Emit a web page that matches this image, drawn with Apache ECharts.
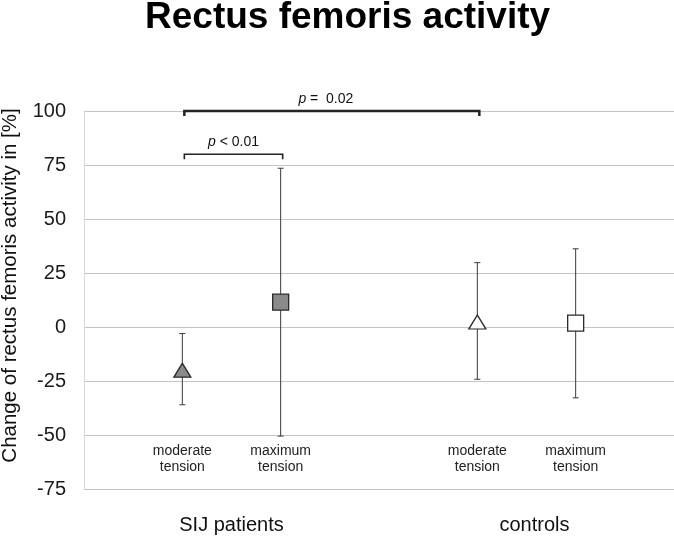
<!DOCTYPE html>
<html>
<head>
<meta charset="utf-8">
<script src="https://cdn.jsdelivr.net/npm/echarts@6/dist/echarts.min.js"></script>
<style>
html, body { margin: 0; padding: 0; background: #fff; }
#chart { width: 674px; height: 536px; }
</style>
</head>
<body>
<div id="chart"></div>
<script>
// x positions of the four conditions (hidden value axis 0..6)
var positions = [1, 2, 4, 5];
var conditions = ['moderate\ntension', 'maximum\ntension', 'moderate\ntension', 'maximum\ntension'];
var groupPositions = [1.5, 4.5];
var groups = ['SIJ patients', 'controls'];

// change in %, mean with upper/lower whisker ends
var means = [-20, 11.5, 2.3, 1.8];
var upper = [-3, 73.5, 29.8, 36.2];
var lower = [-36, -50.5, -24.2, -32.8];

// significance brackets: from, to, height, text after the italic p
var bracketFrom = [1, 1];
var bracketTo = [2, 4];
var bracketY = [80, 100];
var bracketText = [' < 0.01', ' =  0.02'];

var yMin = -75, yMax = 100, yStep = 25;

var FONT = "'Liberation Sans', Arial, sans-serif";

var pointData = positions.map(function (x, i) { return [x, means[i]]; });
var errData = positions.map(function (x, i) { return [x, lower[i], upper[i]]; });
var bracketData = bracketFrom.map(function (x, i) { return [x, bracketTo[i], bracketY[i], i]; });

function lookup(list, labels, v) {
    for (var i = 0; i < list.length; i++) {
        if (Math.abs(list[i] - v) < 1e-6) return labels[i];
    }
    return '';
}

var myChart = echarts.init(document.getElementById('chart'));
var option = {
    backgroundColor: '#fff',
    animation: false,
    title: {
        text: 'Rectus femoris activity',
        left: 145,
        top: -1,
        padding: 0,
        textStyle: {
            fontFamily: FONT,
            fontWeight: 'bold',
            fontSize: 37,
            color: '#000'
        }
    },
    grid: { left: 84, right: 0, top: 111, bottom: 47, outerBoundsMode: 'none', containLabel: false },
    xAxis: [
        {
            type: 'value', min: 0, max: 6, interval: 0.5,
            axisLine: { show: false }, axisTick: { show: false }, splitLine: { show: false },
            axisLabel: {
                inside: true, margin: 14,
                fontFamily: FONT, fontSize: 14, lineHeight: 16, color: '#222',
                formatter: function (v) { return lookup(positions, conditions, v); }
            }
        },
        {
            type: 'value', min: 0, max: 6, interval: 0.5, position: 'bottom',
            axisLine: { show: false }, axisTick: { show: false }, splitLine: { show: false },
            axisLabel: {
                margin: 25,
                fontFamily: FONT, fontSize: 20, lineHeight: 22, color: '#111',
                formatter: function (v) {
                    var t = lookup(groupPositions, groups, v);
                    return t && v > 3 ? '{r|' + t + '}' : t;
                },
                rich: { r: { fontFamily: FONT, fontSize: 20, lineHeight: 22, color: '#111', padding: [0, 0, 0, 16] } }
            }
        }
    ],
    yAxis: {
        type: 'value', min: yMin, max: yMax, interval: yStep,
        name: 'Change of rectus femoris activity in [%]',
        nameLocation: 'middle',
        nameGap: 63,
        nameTextStyle: { fontFamily: FONT, fontSize: 20.5, color: '#111', padding: [0, 0, 0, 29] },
        axisLine: { show: true, lineStyle: { color: '#d9d9d9', width: 1 } },
        axisTick: { show: false },
        axisLabel: { margin: 18, fontFamily: FONT, fontSize: 20, color: '#1a1a1a' },
        splitLine: { lineStyle: { color: '#c4c4c4', width: 1.2 } }
    },
    series: [
        {
            type: 'custom',
            name: 'error bars',
            z: 2,
            data: errData,
            renderItem: function (params, api) {
                var lo = api.coord([api.value(0), api.value(1)]);
                var hi = api.coord([api.value(0), api.value(2)]);
                var cap = 3;
                var st = { stroke: '#3a3a3a', lineWidth: 1 };
                return {
                    type: 'group',
                    children: [
                        { type: 'line', shape: { x1: lo[0], y1: lo[1], x2: hi[0], y2: hi[1] }, style: st },
                        { type: 'line', shape: { x1: hi[0] - cap, y1: hi[1], x2: hi[0] + cap, y2: hi[1] }, style: st },
                        { type: 'line', shape: { x1: lo[0] - cap, y1: lo[1], x2: lo[0] + cap, y2: lo[1] }, style: st }
                    ]
                };
            }
        },
        {
            type: 'scatter',
            name: 'means',
            z: 3,
            data: pointData,
            symbol: function (val, params) { return params.dataIndex % 2 === 0 ? 'triangle' : 'rect'; },
            symbolSize: function (val, params) { return params.dataIndex % 2 === 0 ? [17, 14] : 16; },
            itemStyle: {
                color: function (p) { return p.dataIndex < 2 ? '#8a8a8a' : '#ffffff'; },
                borderColor: '#2a2a2a',
                borderWidth: 1.3,
                opacity: 1
            }
        },
        {
            type: 'custom',
            name: 'brackets',
            z: 4,
            data: bracketData,
            renderItem: function (params, api) {
                var a = api.coord([api.value(0), api.value(2)]);
                var b = api.coord([api.value(1), api.value(2)]);
                var idx = api.value(3);
                var drop = 5;
                var lw = idx === 1 ? 2.5 : 1.6;
                var label = bracketText[idx];
                return {
                    type: 'group',
                    children: [
                        {
                            type: 'polyline',
                            shape: { points: [[a[0] + 2, a[1] + drop], [a[0] + 2, a[1]], [b[0] + 2, b[1]], [b[0] + 2, b[1] + drop]] },
                            style: { stroke: '#222', lineWidth: lw, fill: null }
                        },
                        {
                            type: 'text',
                            x: (a[0] + b[0]) / 2 + 2 - (idx === 1 ? 6 : 0),
                            y: a[1] - 12,
                            style: {
                                text: '{i|p}{n|' + label + '}',
                                align: 'center',
                                verticalAlign: 'middle',
                                rich: {
                                    i: { fontFamily: FONT, fontSize: 14, fontStyle: 'italic', fill: '#111' },
                                    n: { fontFamily: FONT, fontSize: 14, fill: '#111' }
                                }
                            }
                        }
                    ]
                };
            }
        }
    ]
};
myChart.setOption(option);
</script>
</body>
</html>
